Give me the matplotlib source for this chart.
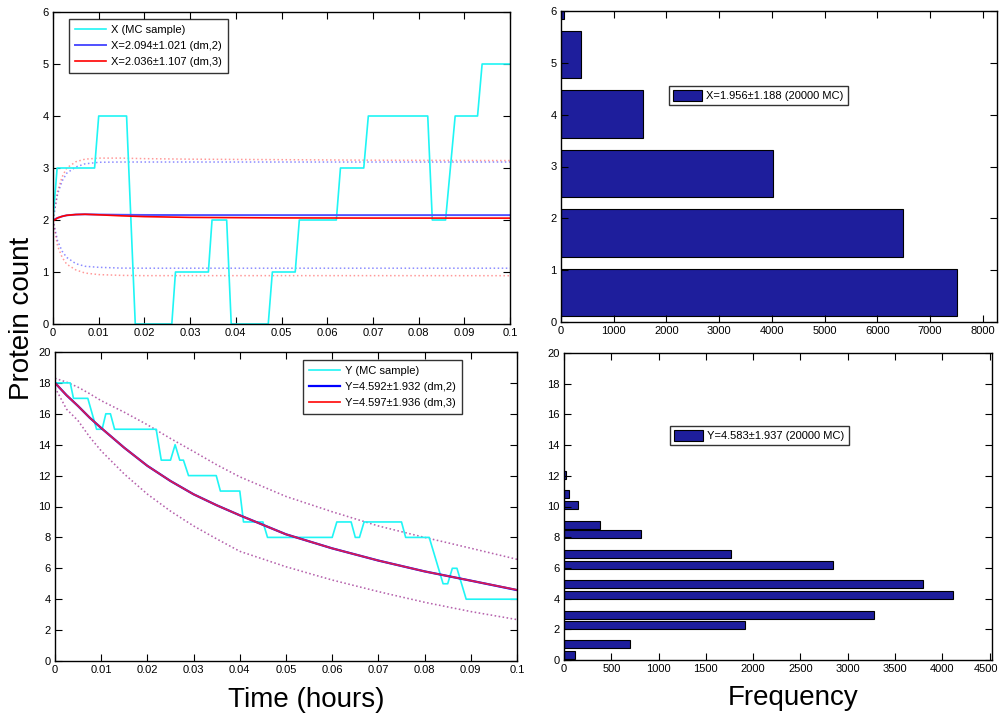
import matplotlib
matplotlib.use("Agg")
import matplotlib.pyplot as plt
import matplotlib.transforms as mtransforms
from matplotlib import font_manager
from matplotlib.ticker import MultipleLocator, FormatStrFormatter

# ---------------- data ----------------
# X: Monte Carlo sample path (vertices)
x_mc_t = [0, 0.0009, 0.0091, 0.0100, 0.0161, 0.0180, 0.0260, 0.0268, 0.0340, 0.0348,
          0.0380, 0.0390, 0.0471, 0.0480, 0.0530, 0.0539, 0.0620, 0.0629, 0.0680, 0.0690,
          0.0820, 0.0830, 0.0859, 0.0880, 0.0929, 0.0939, 0.1]
x_mc_v = [2, 3, 3, 4, 4, 0, 0, 1, 1, 2, 2, 0, 0, 1, 1, 2, 2, 3, 3, 4, 4, 2, 2, 4, 4, 5, 5]

# X: moment-closure means and mean +/- std
x_t = [0, 0.001, 0.002, 0.003, 0.005, 0.007, 0.01, 0.015, 0.02, 0.03, 0.05, 0.07, 0.1]
x_mean_dm2 = [2.0, 2.04, 2.07, 2.09, 2.105, 2.11, 2.105, 2.10, 2.097, 2.095, 2.094, 2.094, 2.094]
x_mean_dm3 = [1.98, 2.04, 2.07, 2.09, 2.105, 2.11, 2.10, 2.08, 2.065, 2.05, 2.04, 2.037, 2.036]
x_up_dm2 = [2.0, 2.5, 2.75, 2.9, 3.02, 3.08, 3.11, 3.115, 3.115, 3.115, 3.115, 3.115, 3.115]
x_lo_dm2 = [2.0, 1.6, 1.4, 1.28, 1.16, 1.11, 1.09, 1.075, 1.073, 1.073, 1.073, 1.073, 1.073]
x_up_dm3 = [2.0, 2.55, 2.83, 3.0, 3.12, 3.17, 3.19, 3.19, 3.18, 3.17, 3.16, 3.15, 3.143]
x_lo_dm3 = [2.0, 1.5, 1.28, 1.15, 1.04, 0.98, 0.95, 0.935, 0.93, 0.93, 0.93, 0.93, 0.929]

# Y: Monte Carlo sample path (vertices)
y_mc_t = [0, 0.0033, 0.0040, 0.0071, 0.0090, 0.0102, 0.0110, 0.0120, 0.0129, 0.0219,
          0.0230, 0.0250, 0.0260, 0.0270, 0.0278, 0.0289, 0.0349, 0.0358, 0.0400, 0.0408,
          0.0450, 0.0460, 0.0600, 0.0610, 0.0641, 0.0650, 0.0659, 0.0669, 0.0750, 0.0759,
          0.0810, 0.0840, 0.0850, 0.0860, 0.0870, 0.0890, 0.1]
y_mc_v = [18, 18, 17, 17, 15, 15, 16, 16, 15, 15, 13, 13, 14, 13, 13, 12, 12, 11, 11, 9,
          9, 8, 8, 9, 9, 8, 8, 9, 9, 8, 8, 5, 5, 6, 6, 4, 4]

# Y: moment-closure mean and mean +/- std
y_t = [0, 0.0025, 0.005, 0.0075, 0.01, 0.015, 0.02, 0.025, 0.03, 0.035, 0.04,
       0.05, 0.06, 0.07, 0.08, 0.09, 0.1]
y_mean_dm2 = [18, 17.2, 16.5, 15.75, 15.08, 13.8, 12.63, 11.65, 10.79, 10.08, 9.43,
              8.2, 7.29, 6.5, 5.8, 5.2, 4.59]
y_mean_dm3 = [18, 17.2, 16.5, 15.75, 15.08, 13.8, 12.63, 11.65, 10.79, 10.08, 9.43,
              8.2, 7.29, 6.5, 5.8, 5.2, 4.60]
y_upper = [18.3, 18.05, 17.72, 17.3, 16.85, 16.1, 15.29, 14.4, 13.56, 12.7, 11.92,
           10.65, 9.66, 8.74, 8.0, 7.3, 6.58]
y_lower = [17.7, 16.3, 15.55, 14.5, 13.6, 12.1, 10.8, 9.7, 8.74, 7.9, 7.1,
           6.1, 5.24, 4.49, 3.8, 3.2, 2.68]

# Histograms (bin centres and counts)
x_bins = [0.573, 1.719, 2.865, 4.011, 5.157, 6.303]
x_counts = [7520, 6480, 4020, 1550, 370, 65]
y_bins = [0.31, 1.03, 2.28, 2.94, 4.25, 4.93, 6.20, 6.88, 8.18, 8.82, 10.08, 10.80, 12.07]
y_counts = [116, 695, 1917, 3275, 4109, 3798, 2841, 1765, 812, 378, 148, 53, 18]

x_hist_label = "X=1.956\u00b11.188 (20000 MC)"
y_hist_label = "Y=4.583\u00b11.937 (20000 MC)"
x_labels = ["X (MC sample)", "X=2.094\u00b11.021 (dm,2)", "X=2.036\u00b11.107 (dm,3)"]
y_labels = ["Y (MC sample)", "Y=4.592\u00b11.932 (dm,2)", "Y=4.597\u00b11.936 (dm,3)"]

# ---------------- style ----------------
names = {f.name for f in font_manager.fontManager.ttflist}
small_family = ["Liberation Sans Narrow", "Liberation Sans", "DejaVu Sans"]
small_family = [f for f in small_family if f in names] or ["DejaVu Sans"]
big_family = [f for f in ["Liberation Sans", "DejaVu Sans"] if f in names] or ["DejaVu Sans"]
plt.rcParams["font.family"] = small_family

TS = 8
BAR_COLOR = "#1e1e9c"
CYAN = "#1ff5f5"

fig = plt.figure(figsize=(9.99, 7.18), dpi=100)
W, H = 999.0, 718.0


def make_ax(l, t, r, b):
    return fig.add_axes([l / W, 1 - b / H, (r - l) / W, (b - t) / H])


ax1 = make_ax(53, 12, 510, 324)
ax2 = make_ax(561, 11, 997, 322)
ax3 = make_ax(55, 352, 517, 661)
ax4 = make_ax(564, 353, 992, 660)


def style(ax):
    ax.tick_params(direction="in", top=True, right=True, length=5, width=0.8,
                   labelsize=TS, pad=3, color="black")
    for s in ax.spines.values():
        s.set_linewidth(1.0)
        s.set_color("black")


# ---- top-left: X trajectories ----
ax1.plot(x_t, x_up_dm2, ":", color="blue", lw=1.1, alpha=0.45)
ax1.plot(x_t, x_lo_dm2, ":", color="blue", lw=1.1, alpha=0.45)
ax1.plot(x_t, x_up_dm3, ":", color="red", lw=1.1, alpha=0.4)
ax1.plot(x_t, x_lo_dm3, ":", color="red", lw=1.1, alpha=0.4)
l1, = ax1.plot(x_mc_t, x_mc_v, color=CYAN, lw=1.2, label=x_labels[0])
l2, = ax1.plot(x_t, x_mean_dm2, color="#5050ff", lw=1.4, label=x_labels[1])
l3, = ax1.plot(x_t, x_mean_dm3, color="red", lw=1.2, label=x_labels[2])
ax1.set_xlim(0, 0.1)
ax1.set_ylim(0, 6)
ax1.xaxis.set_major_locator(MultipleLocator(0.01))
ax1.xaxis.set_major_formatter(FormatStrFormatter("%g"))
ax1.yaxis.set_major_locator(MultipleLocator(1))
style(ax1)
leg = ax1.legend(handles=[l1, l2, l3], loc="upper left", bbox_to_anchor=(0.035, 0.978),
                 borderaxespad=0, fontsize=TS, frameon=True, fancybox=False,
                 edgecolor="black", handlelength=2.8, handletextpad=0.4,
                 labelspacing=0.55, borderpad=0.55)
leg.get_frame().set_linewidth(1.0)

# ---- top-right: X histogram ----
ax2.barh(x_bins, x_counts, height=0.917, color=BAR_COLOR, edgecolor="black",
         linewidth=0.8, label=x_hist_label)
ax2.set_xlim(0, 8270)
ax2.set_ylim(0, 6)
ax2.xaxis.set_major_locator(MultipleLocator(1000))
ax2.yaxis.set_major_locator(MultipleLocator(1))
style(ax2)
leg = ax2.legend(loc="upper left", bbox_to_anchor=(0.248, 0.759), borderaxespad=0,
                 fontsize=TS, frameon=True, fancybox=False, edgecolor="black",
                 handlelength=2.6, handleheight=1.2, handletextpad=0.4, borderpad=0.35)
leg.get_frame().set_linewidth(1.0)

# ---- bottom-left: Y trajectories ----
for arr in (y_upper, y_lower):
    ax3.plot(y_t, arr, ":", color="blue", lw=1.1, alpha=0.4)
    ax3.plot(y_t, arr, ":", color="red", lw=1.1, alpha=0.35)
m1, = ax3.plot(y_mc_t, y_mc_v, color=CYAN, lw=1.2, label=y_labels[0])
m2, = ax3.plot(y_t, y_mean_dm2, color="blue", lw=1.6, label=y_labels[1])
m3, = ax3.plot(y_t, y_mean_dm3, color="#f02040", lw=1.3, alpha=0.9, label=y_labels[2])
ax3.set_xlim(0, 0.1)
ax3.set_ylim(0, 20)
ax3.xaxis.set_major_locator(MultipleLocator(0.01))
ax3.xaxis.set_major_formatter(FormatStrFormatter("%g"))
ax3.yaxis.set_major_locator(MultipleLocator(2))
style(ax3)
leg = ax3.legend(handles=[m1, m2, m3], loc="upper left", bbox_to_anchor=(0.537, 0.974),
                 borderaxespad=0, fontsize=TS, frameon=True, fancybox=False,
                 edgecolor="black", handlelength=2.8, handletextpad=0.4,
                 labelspacing=0.55, borderpad=0.55)
leg.get_frame().set_linewidth(1.0)
leg.legend_handles[2].set_color("red")

# ---- bottom-right: Y histogram ----
ax4.barh(y_bins, y_counts, height=0.52, color=BAR_COLOR, edgecolor="black",
         linewidth=0.8, label=y_hist_label)
ax4.set_xlim(0, 4525)
ax4.set_ylim(0, 20)
ax4.xaxis.set_major_locator(MultipleLocator(500))
ax4.yaxis.set_major_locator(MultipleLocator(2))
style(ax4)
leg = ax4.legend(loc="upper left", bbox_to_anchor=(0.248, 0.762), borderaxespad=0,
                 fontsize=TS, frameon=True, fancybox=False, edgecolor="black",
                 handlelength=2.6, handleheight=1.2, handletextpad=0.4, borderpad=0.35)
leg.get_frame().set_linewidth(1.0)

# keep the last x tick label ("4500") inside the canvas
fig.canvas.draw()
last = ax4.get_xticklabels()[-1]
for lab in ax4.get_xticklabels():
    if lab.get_text() == "4500":
        lab.set_transform(lab.get_transform() +
                          mtransforms.ScaledTranslation(-4 / 100, 0, fig.dpi_scale_trans))

# ---- shared labels ----
fig.text(22 / W, 1 - 318 / H, "Protein count", rotation=90, ha="center", va="center",
         fontsize=20, family=big_family)
fig.text(306 / W, 1 - 700 / H, "Time (hours)", ha="center", va="center",
         fontsize=20, family=big_family)
fig.text(793 / W, 1 - 698 / H, "Frequency", ha="center", va="center",
         fontsize=20, family=big_family)

fig.savefig("out.png", dpi=100)
